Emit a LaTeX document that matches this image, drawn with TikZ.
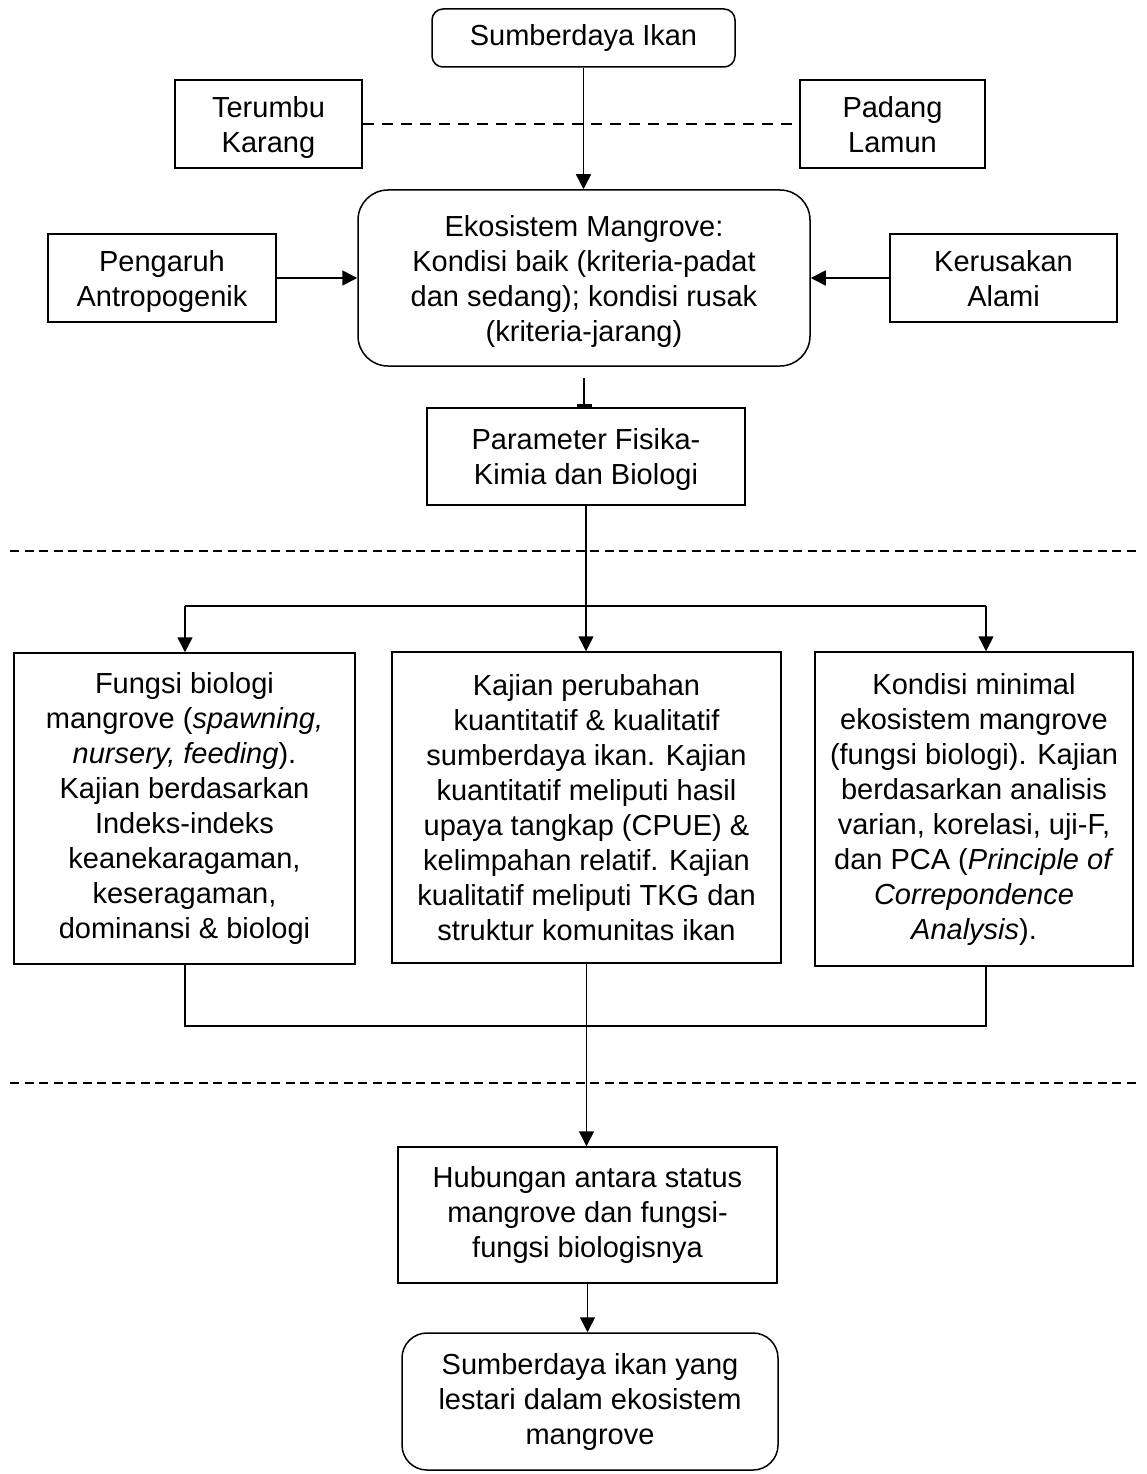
\documentclass[tikz,border=0pt]{standalone}
\usepackage{fontspec}
\setmainfont{Liberation Sans}
\usetikzlibrary{arrows.meta}
\newcommand\bodyfs{\fontsize{29}{35}\selectfont}
\tikzset{
  box/.style={draw, line width=1.5pt, inner sep=0pt, align=center, font=\bodyfs},
  upbox/.style={box, text depth=0pt},
  arr/.style={line width=1.5pt, -{Triangle[width=15pt,length=15pt]}},
  conn/.style={line width=1.5pt},
  topdash/.style={line width=1.5pt, dash pattern=on 11pt off 8pt},
  sepdash/.style={line width=1.5pt, dash pattern=on 9pt off 5.5pt},
}
\begin{document}
\begin{tikzpicture}[x=1pt,y=-1pt]
\useasboundingbox (0,0) rectangle (1147,1474);

\node[box, rounded corners=11pt, minimum width=303pt, minimum height=58pt] (top) at (583.5,38) {Sumberdaya Ikan};
\node[upbox, minimum width=187pt, minimum height=88pt] (ter) at (268.5,124) {Terumbu\\Karang};
\node[upbox, minimum width=185pt, minimum height=88pt] (pad) at (892.5,124) {Padang\\Lamun};
\node[upbox, rounded corners=30pt, minimum width=452pt, minimum height=176pt] (ekos) at (584,278)
  {Ekosistem Mangrove:\\Kondisi baik (kriteria-padat\\dan sedang); kondisi rusak\\(kriteria-jarang)};
\node[upbox, minimum width=228pt, minimum height=88pt] (pen) at (162,278) {Pengaruh\\Antropogenik};
\node[upbox, minimum width=227pt, minimum height=88pt] (ker) at (1003.5,278) {Kerusakan\\Alami};
\node[upbox, minimum width=318pt, minimum height=97pt] (par) at (586,456.5) {Parameter Fisika-\\Kimia dan Biologi};

\node[box, minimum width=341pt, minimum height=311pt] (left) at (184.5,808.5)
  {Fungsi biologi\\mangrove (\textit{spawning,}\\\textit{nursery, feeding}).\\Kajian berdasarkan\\Indeks-indeks\\keanekaragaman,\\keseragaman,\\dominansi \& biologi};
\node[box, minimum width=389pt, minimum height=311pt] (mid) at (586.5,807.5)
  {Kajian perubahan\\kuantitatif \& kualitatif\\sumberdaya ikan. Kajian\\kuantitatif meliputi hasil\\upaya tangkap (CPUE) \&\\kelimpahan relatif. Kajian\\kualitatif meliputi TKG dan\\struktur komunitas ikan};
\node[box, minimum width=318pt, minimum height=314pt] (right) at (974,809)
  {Kondisi minimal\\ekosistem mangrove\\(fungsi biologi). Kajian\\berdasarkan analisis\\varian, korelasi, uji-F,\\dan PCA (\textit{Principle of}\\\textit{Correpondence}\\\textit{Analysis}).};

\node[box, minimum width=379pt, minimum height=136pt] (hub) at (587.5,1215)
  {Hubungan antara status\\mangrove dan fungsi-\\fungsi biologisnya};
\node[box, rounded corners=25pt, minimum width=376pt, minimum height=137pt] (fin) at (590,1401.5)
  {Sumberdaya ikan yang\\lestari dalam ekosistem\\mangrove};

% connectors
\draw[arr] (top.south) -- (top.south |- ekos.north);
\draw[topdash] (ter.east) -- (pad.west);
\draw[arr] (pen.east) -- (ekos.west);
\draw[arr] (ker.west) -- (ekos.east);
\draw[line width=1.5pt, shorten <=11pt, -{Rectangle[length=3.5pt,width=15pt]}] (ekos.south) -- (ekos.south |- par.north);

\coordinate (d1a) at (10,551);
\coordinate (d1b) at (1140,551);
\draw[sepdash] (d1a) -- (d1b);

\coordinate (bl) at (185,606);
\coordinate (br) at (986,606);
\draw[arr] (par.south) -- (par.south |- mid.north);
\draw[conn] (bl) -- (br);
\draw[arr] (bl) -- (bl |- left.north);
\draw[arr] (br) -- (br |- right.north);

\coordinate (jl) at (185,1026);
\coordinate (jr) at (986,1026);
\draw[conn] (jl |- left.south) -- (jl) -- (jr) -- (jr |- right.south);

\coordinate (d2a) at (10,1083);
\coordinate (d2b) at (1140,1083);
\draw[sepdash] (d2a) -- (d2b);

\draw[arr] (mid.south) -- (mid.south |- hub.north);
\draw[arr] (hub.south) -- (hub.south |- fin.north);
\end{tikzpicture}
\end{document}
